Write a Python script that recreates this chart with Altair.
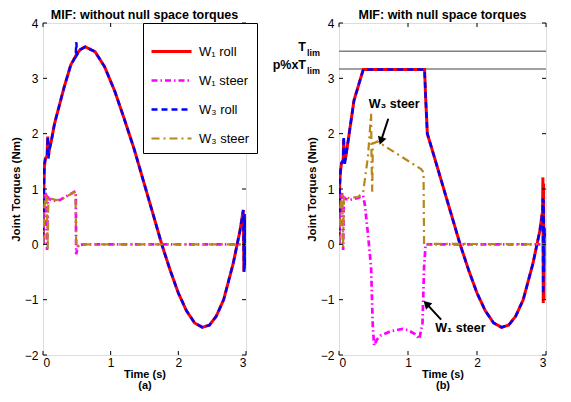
import altair as alt
import pandas as pd

# ---------------- data ----------------
SERIES = ["W\u2081 roll", "W\u2081 steer", "W\u2083 roll", "W\u2083 steer"]
COLORS = ["#ff0000", "#ff00ff", "#0000ff", "#b8861a"]
DASHES = [[1, 0], [6, 3, 1.5, 3], [6, 4], [8, 4, 2, 4]]
WIDTHS = [3, 2.2, 3, 3]

X_TICKS = [0, 1, 2, 3]
Y_TICKS = [-2, -1, 0, 1, 2, 3, 4]

# panel (a): without null space torques
A_W1ROLL_T = [0, 0.01, 0.02, 0.035, 0.06, 0.07, 0.08, 0.10, 0.12, 0.17, 0.25, 0.31, 0.41, 0.49,
              0.55, 0.625, 0.77, 0.91, 1.06, 1.20, 1.35, 1.49, 1.63, 1.755, 1.88, 2.0, 2.12,
              2.24, 2.356, 2.46, 2.56, 2.67, 2.81, 2.91, 2.96, 2.97, 2.98, 2.99, 3.0]
A_W1ROLL_V = [0, 0.8, 1.4, 1.55, 1.6, 1.95, 1.6, 1.75, 1.85, 2.18, 2.55, 2.83, 3.24, 3.42,
              3.52, 3.57, 3.48, 3.21, 2.77, 2.27, 1.71, 1.12, 0.53, 0.0, -0.47, -0.88, -1.2,
              -1.42, -1.5, -1.46, -1.3, -1.0, -0.35, 0.24, 0.62, -0.5, 0.5, -0.45, 0.1]
A_W3ROLL_T = [0, 0.01, 0.02, 0.035, 0.06, 0.07, 0.08, 0.10, 0.12, 0.17, 0.25, 0.31, 0.41, 0.485,
              0.49, 0.495, 0.5, 0.55, 0.625, 0.77, 0.91, 1.06, 1.20, 1.35, 1.49, 1.63, 1.755,
              1.88, 2.0, 2.12, 2.24, 2.356, 2.46, 2.56, 2.67, 2.81, 2.91, 2.96, 2.97, 2.98,
              2.99, 3.0]
A_W3ROLL_V = [0, 0.8, 1.45, 1.54, 1.6, 1.95, 1.55, 1.75, 1.85, 2.18, 2.55, 2.83, 3.24, 3.4,
              3.65, 3.62, 3.42, 3.52, 3.57, 3.48, 3.21, 2.77, 2.27, 1.71, 1.12, 0.53, 0.0,
              -0.47, -0.88, -1.2, -1.42, -1.5, -1.46, -1.3, -1.0, -0.35, 0.24, 0.62, -0.5,
              0.55, -0.4, 0.1]
A_W1STEER_T = [0, 0.02, 0.04, 0.06, 0.07, 0.09, 0.12, 0.2, 0.25, 0.3, 0.41, 0.48, 0.485,
               0.49, 0.52, 0.6, 3.0]
A_W1STEER_V = [0, 0.9, 0.95, -0.1, 0.85, 0.82, 0.8, 0.78, 0.8, 0.84, 0.91, 0.96, 0.9,
               -0.18, -0.02, 0, 0]
A_W3STEER_T = [0, 0.03, 0.05, 0.07, 0.08, 0.1, 0.2, 0.3, 0.4, 0.48, 0.49, 0.5, 0.55, 3.0]
A_W3STEER_V = [0, 0.85, 0.92, -0.09, 0.85, 0.83, 0.8, 0.83, 0.9, 0.96, 0.0, -0.05, 0, 0]

# panel (b): with null space torques
B_W1ROLL_T = [0, 0.01, 0.02, 0.036, 0.06, 0.068, 0.08, 0.10, 0.217, 0.33, 0.352, 1.24, 1.256,
              1.28, 1.35, 1.49, 1.63, 1.755, 1.88, 2.0, 2.12, 2.24, 2.356, 2.46, 2.56, 2.67,
              2.81, 2.91, 2.95, 2.955, 2.96, 2.965, 2.97, 2.975, 3.0]
B_W1ROLL_V = [0, 1.1, 1.3, 1.47, 1.5, 1.9, 1.5, 1.59, 2.6, 3.07, 3.16, 3.16, 2.65,
              2.0, 1.71, 1.12, 0.53, 0.0, -0.47, -0.88, -1.2, -1.42, -1.5, -1.46, -1.3, -1.0,
              -0.35, 0.24, 0.6, 1.21, -1.06, 1.1, -1.0, 0.3, 0.1]
B_W3ROLL_T = [0, 0.01, 0.02, 0.036, 0.06, 0.068, 0.08, 0.10, 0.217, 0.33, 0.352, 1.24, 1.256,
              1.28, 1.35, 1.49, 1.63, 1.755, 1.88, 2.0, 2.12, 2.24, 2.356, 2.46, 2.56, 2.67,
              2.81, 2.91, 2.95, 2.955, 2.96, 2.965, 2.97, 2.975, 3.0]
B_W3ROLL_V = [0, 1.0, 1.3, 1.47, 1.52, 1.95, 1.42, 1.59, 2.6, 3.07, 3.16, 3.16, 2.65,
              2.0, 1.71, 1.12, 0.53, 0.0, -0.47, -0.88, -1.2, -1.42, -1.5, -1.46, -1.3, -1.0,
              -0.35, 0.24, 0.6, 0.83, -0.9, 0.8, -0.5, 0.2, 0.1]
B_W1STEER_T = [0, 0.02, 0.04, 0.06, 0.07, 0.10, 0.15, 0.28, 0.35, 0.375, 0.42, 0.465, 0.49,
               0.51, 0.55, 0.60, 0.75, 0.917, 1.0, 1.10, 1.165, 1.21, 1.233, 1.256, 1.3, 3.0]
B_W1STEER_V = [0, 0.9, 0.95, -0.1, 0.85, 0.82, 0.8, 0.84, 0.88, 0.71, 0.18, -0.41, -1.5,
               -1.83, -1.72, -1.65, -1.57, -1.53, -1.55, -1.62, -1.71, -1.42, -0.41, 0.0, 0, 0]
B_W3STEER_T = [0, 0.03, 0.05, 0.06, 0.07, 0.10, 0.15, 0.28, 0.35, 0.42, 0.465, 0.472, 0.482,
               0.49, 0.51, 0.555, 1.19, 1.225, 1.233, 1.26, 3.0]
B_W3STEER_V = [0, 0.85, 0.88, -0.06, 0.86, 0.86, 0.83, 0.86, 0.94, 1.59, 2.36, 1.5, 0.95,
               1.83, 1.83, 1.86, 1.36, 1.30, 0.0, 0.01, 0.0]

LIMITS = [3.49, 3.17]          # T_lim, p% x T_lim
LIMIT_MAIN = ["T", "p%xT"]
LIMIT_SUB = ["lim", "lim"]

NOTE_TEXT = ["W\u2083 steer", "W\u2081 steer"]
NOTE_T = [0.80, 1.76]
NOTE_V = [2.53, -1.52]
ARROW_T0 = [0.714, 1.48]
ARROW_V0 = [2.27, -1.36]
ARROW_T1 = [0.614, 1.28]
ARROW_V1 = [1.89, -1.09]
ARROW_ANGLE = [199, 315]

FONT = "Liberation Sans"
W_A, W_B, H = 203, 207, 332


def long_df(parts):
    rows = []
    for name, ts, vs in parts:
        for i, (t, v) in enumerate(zip(ts, vs)):
            rows.append({"t": t, "v": v, "series": name, "i": i})
    return pd.DataFrame(rows)


df_a = long_df([(SERIES[0], A_W1ROLL_T, A_W1ROLL_V), (SERIES[1], A_W1STEER_T, A_W1STEER_V),
                (SERIES[2], A_W3ROLL_T, A_W3ROLL_V), (SERIES[3], A_W3STEER_T, A_W3STEER_V)])
df_b = long_df([(SERIES[0], B_W1ROLL_T, B_W1ROLL_V), (SERIES[1], B_W1STEER_T, B_W1STEER_V),
                (SERIES[2], B_W3ROLL_T, B_W3ROLL_V), (SERIES[3], B_W3STEER_T, B_W3STEER_V)])

xs = alt.Scale(domain=[0, 3], nice=False, zero=False)
ys = alt.Scale(domain=[-2, 4], nice=False, zero=False)


def x_enc(title):
    return alt.X("t:Q", scale=xs, title=title,
                 axis=alt.Axis(values=X_TICKS, ticks=False, domain=False, grid=False,
                               labelFontSize=12, labelFont=FONT, labelColor="black",
                               labelPadding=2, titleFont=FONT, titleFontSize=11,
                               titleFontWeight="bold", titleColor="black", titlePadding=0,
                               titleLineHeight=11.5, format="d"))


def y_enc():
    return alt.Y("v:Q", scale=ys, title="Joint Torques (Nm)",
                 axis=alt.Axis(values=Y_TICKS, ticks=False, domain=False, grid=False,
                               labelFontSize=12, labelFont=FONT, labelColor="black",
                               labelPadding=5, titleFont=FONT, titleFontSize=11.5,
                               titleFontWeight="bold", titleColor="black", titlePadding=3,
                               format="d"))


def lines(df, legend):
    leg = None
    if legend:
        leg = alt.Legend(title=None, orient="none", legendX=100, legendY=0,
                         symbolType="stroke", symbolSize=1600, symbolStrokeWidth=2.6,
                         labelFont=FONT, labelFontSize=13, labelColor="black",
                         labelOffset=6, rowPadding=-6, padding=7,
                         strokeColor="black", fillColor="white", symbolOffset=0)
    return alt.Chart(df).mark_line(clip=True, strokeCap="butt").encode(
        x=x_enc(["Time (s)", "(a)"] if legend else ["Time (s)", "(b)"]),
        y=y_enc(),
        color=alt.Color("series:N", scale=alt.Scale(domain=SERIES, range=COLORS), legend=leg),
        strokeDash=alt.StrokeDash("series:N", scale=alt.Scale(domain=SERIES, range=DASHES),
                                  legend=leg),
        strokeWidth=alt.StrokeWidth("series:N", scale=alt.Scale(domain=SERIES, range=WIDTHS),
                                    legend=None),
        order="i:Q",
    )


def tick_rules(w):
    xt = pd.DataFrame({"t": X_TICKS})
    yt = pd.DataFrame({"v": Y_TICKS})
    base_x = alt.Chart(xt).mark_rule(color="black", strokeWidth=1)
    base_y = alt.Chart(yt).mark_rule(color="black", strokeWidth=1)
    return [
        base_x.encode(x=alt.X("t:Q", scale=xs), y=alt.value(H), y2=alt.value(H - 4)),
        base_x.encode(x=alt.X("t:Q", scale=xs), y=alt.value(0), y2=alt.value(4)),
        base_y.encode(y=alt.Y("v:Q", scale=ys), x=alt.value(0), x2=alt.value(4)),
        base_y.encode(y=alt.Y("v:Q", scale=ys), x=alt.value(w), x2=alt.value(w - 4)),
    ]


title_style = dict(font=FONT, fontSize=12.5, fontWeight="bold", color="black", offset=-4)

panel_a = alt.layer(lines(df_a, True), *tick_rules(W_A)).properties(
    width=W_A, height=H,
    title=alt.TitleParams("MIF: without null space torques", **title_style))

# limits
lim_df = pd.DataFrame({"v": LIMITS, "main": LIMIT_MAIN, "sub": LIMIT_SUB})
lim_rules = alt.Chart(lim_df).mark_rule(color="#808080", strokeWidth=1.5).encode(
    y=alt.Y("v:Q", scale=ys), x=alt.value(0), x2=alt.value(W_B))
lim_main = alt.Chart(lim_df).mark_text(
    align="right", baseline="middle", font=FONT, fontSize=12.5, fontWeight="bold",
    color="black", dy=-4).encode(y=alt.Y("v:Q", scale=ys), x=alt.value(-33), text="main:N")
lim_sub = alt.Chart(lim_df).mark_text(
    align="left", baseline="middle", font=FONT, fontSize=9, fontWeight="bold",
    color="black", dy=2).encode(y=alt.Y("v:Q", scale=ys), x=alt.value(-32), text="sub:N")

note_df = pd.DataFrame({"text": NOTE_TEXT, "t": NOTE_T, "v": NOTE_V,
                        "t0": ARROW_T0, "v0": ARROW_V0, "t1": ARROW_T1, "v1": ARROW_V1,
                        "ang": ARROW_ANGLE})
notes = alt.Chart(note_df).mark_text(font=FONT, fontSize=12.5, fontWeight="bold",
                                     color="black").encode(
    x=alt.X("t:Q", scale=xs), y=alt.Y("v:Q", scale=ys), text="text:N")
arrow_lines = alt.Chart(note_df).mark_rule(color="black", strokeWidth=2).encode(
    x=alt.X("t0:Q", scale=xs), y=alt.Y("v0:Q", scale=ys), x2="t1:Q", y2="v1:Q")
arrow_heads = alt.Chart(note_df).mark_point(shape="triangle", filled=True, color="black",
                                            size=80, opacity=1).encode(
    x=alt.X("t1:Q", scale=xs), y=alt.Y("v1:Q", scale=ys),
    angle=alt.Angle("ang:Q", scale=None))

panel_b = alt.layer(lim_rules, lines(df_b, False), *tick_rules(W_B), lim_main, lim_sub,
                    notes, arrow_lines, arrow_heads).properties(
    width=W_B, height=H,
    title=alt.TitleParams("MIF: with null space torques", **title_style))

chart = alt.hconcat(panel_a, panel_b, spacing=14).resolve_scale(
    color="independent", strokeDash="independent", strokeWidth="independent"
).properties(
    padding={"left": 1, "top": 0, "right": 0, "bottom": 0}
).configure_view(stroke="black", strokeWidth=1.6).configure(background="white")

chart.save("out.html", embed_options={"renderer": "svg", "actions": False})
